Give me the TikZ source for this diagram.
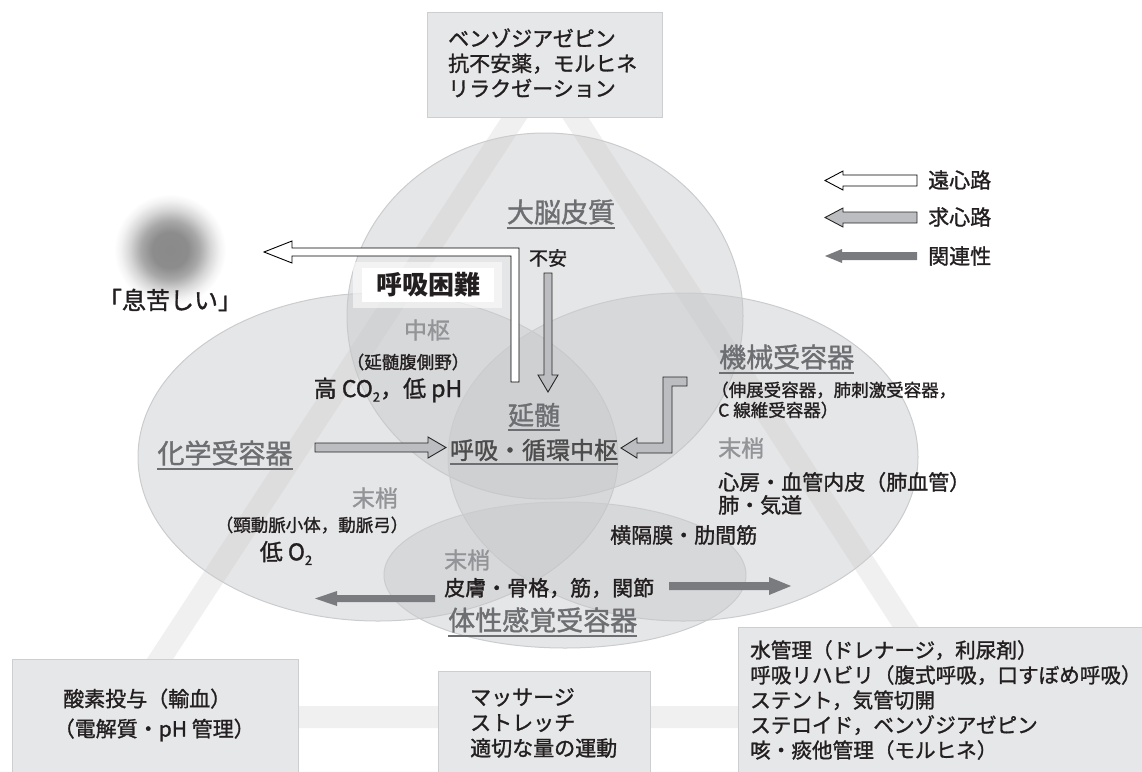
\documentclass[tikz,border=0pt]{standalone}
\usepackage{fontspec}
\setmainfont{Noto Sans CJK JP}[UprightFeatures={FakeBold=1.3}]
\definecolor{boxfill}{RGB}{230,231,232}
\definecolor{boxline}{RGB}{205,206,208}
\definecolor{ellfill}{RGB}{198,199,201}
\definecolor{ellline}{RGB}{203,204,206}
\definecolor{bandc}{RGB}{240,240,240}
\definecolor{hdrc}{RGB}{109,110,113}
\definecolor{subg}{RGB}{146,148,151}
\definecolor{txtc}{RGB}{35,31,32}
\definecolor{relg}{RGB}{122,123,126}
\definecolor{afffill}{RGB}{188,189,192}
\pgfdeclareradialshading{blob}{\pgfpoint{0bp}{0bp}}{color(0bp)=(black!46); color(8bp)=(black!45); color(13bp)=(black!34); color(18bp)=(black!16); color(22bp)=(black!5); color(25bp)=(white); color(50bp)=(white)}
\newcommand{\subtwo}{\raisebox{-0.2em}{\fontsize{13}{13}\selectfont 2}}
\tikzset{
  bodytext/.style={inner sep=0pt, text=txtc, font=\fontsize{21}{25}\selectfont},
  hdrtext/.style={inner sep=0pt, text=hdrc, font=\fontsize{27}{30}\selectfont},
  sublbl/.style={inner sep=0pt, text=subg, font=\fontsize{23}{26}\selectfont},
  parentext/.style={inner sep=0pt, text=txtc, font=\fontsize{17.5}{20}\selectfont},
  boxstyle/.style={fill=boxfill, draw=boxline, line width=1pt},
  ellstyle/.style={fill=ellfill, fill opacity=0.45, draw=ellline, line width=1pt},
  effarrow/.style={fill=white, draw=black, line width=0.9pt, line join=miter},
  affarrow/.style={fill=afffill, draw=black!85, line width=0.9pt, line join=miter},
  relarrow/.style={fill=relg},
  ulstyle/.style={draw=hdrc, line width=2.2pt},
}
\newcommand{\ulnode}[1]{\draw[ulstyle] ([yshift=-3pt]#1.south west) -- ([yshift=-3pt]#1.south east);}
\begin{document}
\begin{tikzpicture}[x=1pt,y=-1pt]
\useasboundingbox (0,0) rectangle (1142,771);
\clip (0,0) rectangle (1142,771);
% background triangle band
\coordinate (tA) at (545,71);
\coordinate (tB) at (122,717);
\coordinate (tC) at (964,717);
\draw[bandc, line width=22pt, line join=miter] (tA) -- (tB) -- (tC) -- cycle;
% blob
\shade[shading=blob] (170,250) circle (56);
% ellipses
\path[ellstyle] (545,316) ellipse [x radius=198, y radius=183];
\path[ellstyle] (378,457) ellipse [x radius=240, y radius=164];
\path[ellstyle] (683,457) ellipse [x radius=235, y radius=164];
\path[ellstyle] (565,575) ellipse [x radius=181, y radius=73];
% boxes
\path[boxstyle] (427,12) rectangle (662,117);
\path[boxstyle] (12,659) rectangle (298,780);
\path[boxstyle] (438,671) rectangle (650,780);
\path[boxstyle] (738,627) rectangle (1150,780);
% white glow box
\fill[white, opacity=0.55] (353,262) rectangle (502,308);
\fill[white] (362,268) rectangle (494,302);
% arrows
\draw[effarrow] (511,382) -- (519,382) -- (519,248) -- (292,248) -- (292,241) -- (264,252) -- (292,263) -- (292,256) -- (511,256) -- cycle;
\draw[affarrow] (544,273) -- (552,273) -- (552,375) -- (558,375) -- (548,392) -- (538,375) -- (544,375) -- cycle;
\draw[affarrow] (315,443) -- (428,443) -- (428,437) -- (446,447.5) -- (428,458) -- (428,452) -- (315,452) -- cycle;
\draw[affarrow] (687,377) -- (663,377) -- (663,443) -- (637,443) -- (637,438) -- (621,448) -- (637,458) -- (637,453) -- (672,453) -- (672,386) -- (687,386) -- cycle;
\fill[relarrow] (435,595) -- (337,595) -- (337,591) -- (315,598.5) -- (337,606) -- (337,602) -- (435,602) -- cycle;
\fill[relarrow] (669,582) -- (769,582) -- (769,577) -- (791,586) -- (769,595) -- (769,590) -- (669,590) -- cycle;
% legend arrows
\draw[effarrow] (917,175) -- (843,175) -- (843,171) -- (825,180.5) -- (843,190) -- (843,186) -- (917,186) -- cycle;
\draw[affarrow] (917,212) -- (843,212) -- (843,208) -- (825,217.5) -- (843,227) -- (843,223) -- (917,223) -- cycle;
\fill[relarrow] (917,252) -- (842,252) -- (842,249) -- (825,256) -- (842,263) -- (842,260) -- (917,260) -- cycle;
% legend text
\node[bodytext, anchor=west] (lg1) at (928,180) {遠心路};
\node[bodytext, anchor=west] (lg2) at (928,217) {求心路};
\node[bodytext, anchor=west] (lg3) at (928,256) {関連性};
% top box text
\node[bodytext, anchor=west, align=left] (topt) at (448,63) {ベンゾジアゼピン\\抗不安薬，モルヒネ\\リラクゼーション};
% bottom boxes text
\node[bodytext, anchor=west, align=left, font=\fontsize{21}{30}\selectfont] (blt) at (63,715) {酸素投与（輸血）\\\hspace*{-0.45em}（電解質・pH 管理）};
\node[bodytext, anchor=west, align=left, font=\fontsize{21}{25.5}\selectfont] (bmt) at (470,723) {マッサージ\\ストレッチ\\適切な量の運動};
\node[bodytext, anchor=west, align=left, font=\fontsize{20.6}{25}\selectfont] (brt) at (750,700) {水管理（ドレナージ，利尿剤）\\呼吸リハビリ（腹式呼吸，口すぼめ呼吸）\\ステント，気管切開\\ステロイド，ベンゾジアゼピン\\咳・痰他管理（モルヒネ）};
% left blob label
\node[bodytext, font=\fontsize{24}{26}\selectfont] (iki) at (170,300) {「息苦しい」};
% top circle
\node[hdrtext] (cortex) at (561,212) {大脳皮質};
\ulnode{cortex}
\node[bodytext, font=\fontsize{19}{22}\selectfont] (fuan) at (548,258) {不安};
\node[bodytext, font=\bfseries\fontsize{26}{28}\selectfont] (dysp) at (428,285) {呼吸困難};
\node[sublbl] (chusu) at (427,330) {中枢};
\node[parentext] (enzui2) at (408,362) {（延髄腹側野）};
\node[bodytext, font=\fontsize{23}{26}\selectfont] (co2) at (388,390) {高 CO\subtwo，低 pH};
% medulla
\node[hdrtext, font=\fontsize{26}{30}\selectfont] (medulla) at (534,415) {延髄};
\ulnode{medulla}
\node[hdrtext, text=black!70, font=\fontsize{24}{28}\selectfont] (center) at (534,450) {呼吸・循環中枢};
\ulnode{center}
% chemoreceptor
\node[hdrtext] (chemo) at (225,453) {化学受容器};
\ulnode{chemo}
\node[sublbl] (mlL) at (375,498) {末梢};
\node[parentext] (carot) at (312,525) {（頸動脈小体，動脈弓）};
\node[bodytext, font=\fontsize{23}{26}\selectfont] (o2) at (286,553) {低 O\subtwo};
% mechanoreceptor
\node[hdrtext, anchor=west] (mech) at (719,357) {機械受容器};
\ulnode{mech}
\node[parentext, anchor=west] (mech1) at (711,390) {（伸展受容器，肺刺激受容器，};
\node[parentext, anchor=west] (mech2) at (718,410) {C 線維受容器）};
\node[sublbl, anchor=west] (mlR) at (718,448) {末梢};
\node[bodytext, anchor=west] (heart) at (718,482) {心房・血管内皮（肺血管）};
\node[bodytext, anchor=west] (lung) at (718,505) {肺・気道};
\node[bodytext, anchor=west] (diaph) at (610,535) {横隔膜・肋間筋};
% somatosensory
\node[sublbl, anchor=west] (mlB) at (444,560) {末梢};
\node[bodytext, anchor=west] (skin) at (444,588) {皮膚・骨格，筋，関節};
\node[hdrtext, anchor=west] (soma) at (448,620) {体性感覚受容器};
\ulnode{soma}
\end{tikzpicture}
\end{document}
